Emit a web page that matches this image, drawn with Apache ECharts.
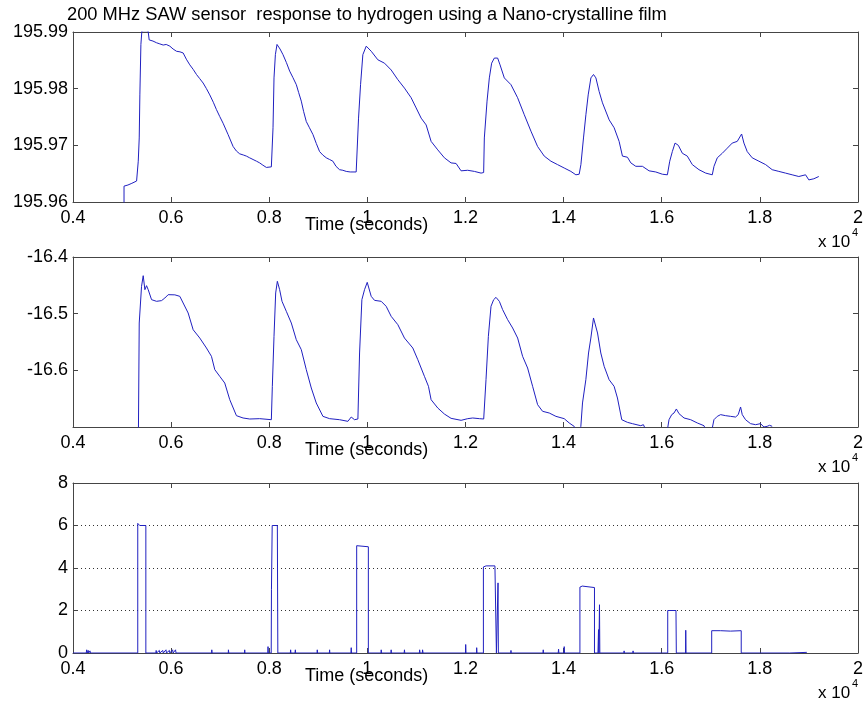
<!DOCTYPE html>
<html><head><meta charset="utf-8">
<script src="https://cdn.jsdelivr.net/npm/echarts@6/dist/echarts.min.js"></script>
<style>html,body{margin:0;padding:0;background:#fff}#c{width:866px;height:709px}</style>
</head><body><div id="c"></div><script>
// ---- data (time in seconds) ----
const xTicks = {min: 4000, max: 20000, step: 2000};
const sawFrequency = [
[5040,195.9590],[5040,195.9628],[5120,195.9630],[5200,195.9633],[5296,195.9637],[5330,195.9672],[5350,195.9713],
[5363,195.9789],[5384,195.9878],[5404,195.9902],[5530,195.9902],[5553,195.9886],[5630,195.9884],[5703,195.9881],
[5770,195.9879],[5838,195.9877],[5900,195.9878],[5974,195.9875],[6040,195.9870],[6110,195.9866],[6180,195.9865],
[6245,195.9863],[6310,195.9852],[6381,195.9842],[6450,195.9834],[6517,195.9825],[6580,195.9818],[6652,195.9810],
[6720,195.9800],[6788,195.9789],[6860,195.9776],[6924,195.9763],[6990,195.9751],[7059,195.9739],[7161,195.9719],
[7263,195.9698],[7330,195.9690],[7398,195.9685],[7470,195.9683],[7534,195.9681],[7600,195.9678],[7670,195.9675],
[7740,195.9672],[7805,195.9669],[7870,195.9665],[7941,195.9661],[8043,195.9662],[8077,195.9731],[8097,195.9819],
[8125,195.9860],[8158,195.9878],[8220,195.9870],[8280,195.9860],[8350,195.9846],[8416,195.9831],[8480,195.9820],
[8552,195.9807],[8600,195.9793],[8653,195.9778],[8700,195.9760],[8755,195.9742],[8820,195.9731],[8891,195.9719],
[8960,195.9703],[9026,195.9689],[9090,195.9683],[9162,195.9678],[9230,195.9675],[9297,195.9672],[9360,195.9663],
[9433,195.9657],[9500,195.9656],[9569,195.9654],[9650,195.9653],[9772,195.9653],[9806,195.9651],[9820,195.9748],
[9861,195.9807],[9908,195.9860],[9977,195.9875],[10079,195.9866],[10213,195.9851],[10349,195.9845],[10485,195.9833],
[10620,195.9816],[10756,195.9801],[10892,195.9784],[10994,195.9766],[11096,195.9748],[11198,195.9736],[11299,195.9707],
[11435,195.9692],[11570,195.9678],[11706,195.9669],[11808,195.9668],[11910,195.9655],[12044,195.9656],[12181,195.9654],
[12317,195.9651],[12370,195.9652],[12384,195.9713],[12439,195.9778],[12486,195.9819],[12533,195.9845],[12588,195.9854],
[12655,195.9854],[12704,195.9842],[12791,195.9819],[12927,195.9807],[13062,195.9784],[13198,195.9754],[13334,195.9725],
[13469,195.9698],[13605,195.9681],[13741,195.9672],[13876,195.9666],[14012,195.9660],[14148,195.9654],[14250,195.9648],
[14317,195.9649],[14352,195.9666],[14405,195.9713],[14454,195.9754],[14501,195.9789],[14556,195.9819],[14609,195.9825],
[14658,195.9819],[14724,195.9795],[14792,195.9775],[14928,195.9745],[15030,195.9731],[15131,195.9707],[15199,195.9681],
[15301,195.9679],[15370,195.9669],[15471,195.9663],[15606,195.9663],[15742,195.9655],[15878,195.9653],[16013,195.9649],
[16115,195.9648],[16163,195.9672],[16216,195.9689],[16271,195.9704],[16338,195.9700],[16420,195.9686],[16521,195.9681],
[16623,195.9666],[16759,195.9657],[16896,195.9651],[17030,195.9648],[17065,195.9663],[17132,195.9678],[17234,195.9686],
[17336,195.9695],[17437,195.9704],[17539,195.9707],[17628,195.9720],[17675,195.9704],[17742,195.9689],[17844,195.9678],
[17980,195.9672],[18117,195.9666],[18251,195.9657],[18387,195.9654],[18523,195.9651],[18658,195.9648],[18794,195.9645],
[18931,195.9648],[18998,195.9639],[19100,195.9641],[19201,195.9645]
];
const sawPhase = [
[5330,-16.75],[5350,-16.5165],[5397,-16.4518],[5431,-16.4330],[5465,-16.4577],[5499,-16.4506],[5533,-16.4577],
[5601,-16.4753],[5703,-16.4782],[5804,-16.4770],[5872,-16.4724],[5940,-16.4665],[6076,-16.4668],[6177,-16.4694],
[6245,-16.4812],[6347,-16.4988],[6449,-16.5283],[6584,-16.5430],[6720,-16.5606],[6822,-16.5753],[6890,-16.5988],
[6991,-16.6106],[7093,-16.6224],[7195,-16.6518],[7331,-16.6800],[7466,-16.6841],[7602,-16.6859],[7805,-16.6853],
[8043,-16.6871],[8063,-16.6282],[8097,-16.5400],[8131,-16.4635],[8165,-16.4429],[8212,-16.4577],[8260,-16.4782],
[8348,-16.4959],[8450,-16.5165],[8551,-16.5459],[8653,-16.5635],[8755,-16.5988],[8857,-16.6312],[8958,-16.6576],
[9094,-16.6812],[9230,-16.6853],[9433,-16.6871],[9603,-16.6900],[9671,-16.6824],[9738,-16.6871],[9807,-16.6859],
[9841,-16.5694],[9888,-16.4753],[9942,-16.4577],[9997,-16.4447],[10024,-16.4450],[10078,-16.4694],[10146,-16.4765],
[10282,-16.4782],[10383,-16.4870],[10485,-16.5047],[10621,-16.5194],[10756,-16.5430],[10926,-16.5606],[11028,-16.5812],
[11163,-16.6106],[11245,-16.6282],[11299,-16.6518],[11435,-16.6665],[11570,-16.6771],[11706,-16.6847],[11910,-16.6882],
[12045,-16.6853],[12147,-16.6841],[12283,-16.6853],[12371,-16.6859],[12418,-16.6165],[12466,-16.5400],[12520,-16.4870],
[12574,-16.4753],[12622,-16.4712],[12690,-16.4782],[12757,-16.4929],[12859,-16.5106],[12961,-16.5253],[13063,-16.5430],
[13164,-16.5753],[13266,-16.5959],[13368,-16.6282],[13470,-16.6606],[13571,-16.6723],[13707,-16.6753],[13843,-16.6812],
[14012,-16.6853],[14114,-16.6929],[14216,-16.6990],[14280,-16.7150],[14351,-16.6990],[14385,-16.6576],[14453,-16.6165],
[14508,-16.5694],[14555,-16.5430],[14609,-16.5076],[14643,-16.5100],[14691,-16.5341],[14758,-16.5694],[14826,-16.5929],
[14927,-16.6165],[15029,-16.6282],[15097,-16.6488],[15185,-16.6871],[15301,-16.6918],[15402,-16.6941],[15572,-16.6977],
[15626,-16.6959],[15674,-16.7050],[15900,-16.7150],[16115,-16.7050],[16148,-16.6871],[16203,-16.6782],[16250,-16.6753],
[16298,-16.6682],[16352,-16.6765],[16454,-16.6841],[16589,-16.6871],[16725,-16.6929],[16861,-16.6977],[16940,-16.7150],
[17030,-16.7020],[17064,-16.6871],[17132,-16.6812],[17200,-16.6782],[17302,-16.6800],[17403,-16.6812],[17505,-16.6824],
[17559,-16.6782],[17607,-16.6647],[17641,-16.6782],[17708,-16.6871],[17810,-16.6941],[17912,-16.6959],[18014,-16.6941],
[18082,-16.7000],[18149,-16.6988],[18197,-16.6970],[18251,-16.6988]
];
const hydrogenFlow = [
[4000,0],[4270,0],[4279,0.15],[4290,0],[4310,0.12],[4320,0],[4346,0.1],[4356,0],
[5320,0],[5320,6.1],[5340,6.05],[5360,6.0],[5485,6.0],[5485,0],
[5689,0],[5695,0.12],[5705,0],[5760,0.12],[5770,0],[5830,0.12],[5840,0],[5895,0.15],[5905,0],[5965,0.12],[5975,0],
[6030,0.15],[6040,0],[6090,0.15],[6100,0],[6825,0],[6829,0.15],[6835,0],[7165,0],[7168,0.15],[7175,0],
[7495,0],[7500,0.15],[7505,0],[7970,0],[7975,0.3],[7982,0],
[8040,0],[8045,3],[8060,6],[8165,6],[8175,0],
[8430,0],[8436,0.15],[8442,0],[8525,0],[8532,0.15],[8538,0],[8975,0],[8979,0.15],[8985,0],
[9225,0],[9230,0.15],[9235,0],[9665,0],[9671,0.25],[9677,0],
[9782,0],[9782,5.05],[9800,5.0],[10020,5.0],[10020,0],
[10278,0],[10282,0.15],[10288,0],[10480,0],[10485,0.15],[10490,0],[10750,0],[10756,0.15],[10762,0],
[11060,0],[11065,0.15],[11075,0],[11120,0],[11125,0.15],[11135,0],[12000,0],[12004,0.4],[12010,0],
[12225,0],[12228,0.25],[12234,0],
[12365,0],[12365,4.05],[12420,4.1],[12600,4.1],[12625,4.08],[12630,0],[12655,0],[12663,3.3],[12670,0],
[12922,0],[12927,0.12],[12932,0],[13580,0],[13585,0.15],[13590,0],[13890,0],[13897,0.18],[13903,0],
[14005,0],[14012,0.3],[14018,0],
[14332,0],[14332,3.1],[14380,3.15],[14420,3.1],[14629,3.08],[14629,0],[14700,0],[14711,1.1],[14718,0],
[14726,0],[14731,2.27],[14738,0],[15228,0],[15233,0.1],[15238,0],[15410,0],[15416,0.1],[15422,0],
[16122,0],[16122,2.0],[16290,2.0],[16297,2.05],[16297,0],[16485,0],[16489,1.07],[16495,0],
[17018,0],[17018,1.05],[17200,1.05],[17400,1.03],[17620,1.05],[17620,0],
[18600,0],[18620,0.03],[18957,0.03]
];
const yScales = [
  {min:195.96, max:195.99, step:0.01, digits:2, hideMin:false},
  {min:-16.7, max:-16.4, step:0.1, digits:1, hideMin:true},
  {min:0, max:8, step:2, digits:0, hideMin:false}
];
const titleText = '200 MHz SAW sensor  response to hydrogen using a Nano-crystalline film';
const xLabelText = 'Time (seconds)';

// ---- chart ----
const FONT = '"Liberation Sans", Arial, sans-serif';
const LINE = '#2020c0';
const FRAME = '#454545';
const tops = [32, 257, 483];
const H = 170;
const chart = echarts.init(document.getElementById('c'), null, {renderer:'canvas'});
const grid = tops.map(t => ({left:73, top:t, width:787, height:H, containLabel:false}));
const xAxis = [], yAxis = [], series = [];
const seriesData = [sawFrequency, sawPhase, hydrogenFlow];
tops.forEach((t, i) => {
  const common = {gridIndex:i, type:'value', min:xTicks.min, max:xTicks.max, interval:xTicks.step,
    axisLine:{show:true, onZero:false, lineStyle:{color:FRAME, width:1}},
    axisTick:{show:true, inside:true, length:5, lineStyle:{color:FRAME}},
    splitLine:{show:false}};
  xAxis.push(Object.assign({}, common, {position:'bottom',
    axisLabel:{show:true, margin:7, fontSize:18, color:'#000', fontFamily:FONT,
      formatter: v => String(+(v/10000).toFixed(1))}}));
  xAxis.push(Object.assign({}, common, {position:'top', axisLabel:{show:false}}));
  const s = yScales[i];
  const yc = {gridIndex:i, type:'value', min:s.min, max:s.max, interval:s.step,
    axisLine:{show:true, onZero:false, lineStyle:{color:FRAME, width:1}},
    axisTick:{show:true, inside:true, length:5, lineStyle:{color:FRAME}}};
  yAxis.push(Object.assign({}, yc, {position:'left',
    axisLabel:{show:true, margin:5, fontSize:18, color:'#000', fontFamily:FONT, showMinLabel:!s.hideMin,
      formatter: v => (+v).toFixed(s.digits)},
    splitLine: i === 2 ? {show:true, lineStyle:{color:'#333', type:[1,3], width:1}} : {show:false}}));
  yAxis.push(Object.assign({}, yc, {position:'right', axisLabel:{show:false}, splitLine:{show:false}}));
  series.push({type:'line', xAxisIndex:i*2, yAxisIndex:i*2, data:seriesData[i], showSymbol:false,
    symbol:'none', clip:true,
    lineStyle:{color:LINE, width:1}, animation:false, silent:true});
});
const graphic = [
  {type:'text', x:67, y:15, style:{text:titleText, fontSize:18.3, fontFamily:FONT, fill:'#000', verticalAlign:'middle'}}
];
tops.forEach(t => {
  graphic.push({type:'text', x:305, y:t+H+23, style:{text:xLabelText, fontSize:18, fontFamily:FONT, fill:'#000', verticalAlign:'middle'}});
  graphic.push({type:'text', x:818, y:t+H+40, style:{text:'x 10', fontSize:17, fontFamily:FONT, fill:'#000', verticalAlign:'middle'}});
  graphic.push({type:'text', x:852, y:t+H+31, style:{text:'4', fontSize:11, fontFamily:FONT, fill:'#000', verticalAlign:'middle'}});
});
chart.setOption({animation:false, backgroundColor:'#fff', grid, xAxis, yAxis, series, graphic});
</script></body></html>
